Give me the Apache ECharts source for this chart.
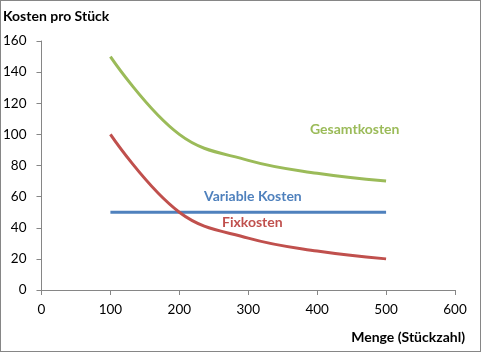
<!DOCTYPE html>
<html><head><meta charset="utf-8">
<script src="https://cdn.jsdelivr.net/npm/echarts@6/dist/echarts.min.js"></script>
<style>
html,body{margin:0;padding:0;background:#fff;}
#frame{position:absolute;left:0;top:0;width:479px;height:350px;border:1px solid #868686;}
#c{position:absolute;left:0;top:0;width:482px;height:355px;}
</style></head>
<body><div id="frame"></div><div id="c"></div>
<script>
const menge = [100, 200, 300, 400, 500];
const fixkosten = [100, 50, 33.3, 25, 20];
const variableKosten = [50, 50, 50, 50, 50];
const gesamtkosten = [150, 100, 83.3, 75, 70];
const xTicks = [0, 100, 200, 300, 400, 500, 600];
const yTicks = [0, 20, 40, 60, 80, 100, 120, 140, 160];

const FONT = 'Lato';
const pairs = (ys) => menge.map((x, i) => [x, ys[i]]);
const chart = echarts.init(document.getElementById('c'), null, {renderer: 'canvas'});
const axisLine = {show: true, lineStyle: {color: '#868686', width: 1}};
chart.setOption({
  animation: false,
  backgroundColor: 'transparent',
  grid: {left: 41, right: 27, top: 41, bottom: 65, containLabel: false},
  xAxis: {
    type: 'value', min: xTicks[0], max: xTicks[xTicks.length - 1], interval: 100,
    axisLine: axisLine, axisTick: {show: true, length: 5, lineStyle: {color: '#868686'}},
    splitLine: {show: false},
    axisLabel: {color: '#000', fontFamily: FONT, fontSize: 13.5, margin: 13}
  },
  yAxis: {
    type: 'value', min: yTicks[0], max: yTicks[yTicks.length - 1], interval: 20,
    axisLine: axisLine, axisTick: {show: true, length: 5, lineStyle: {color: '#868686'}},
    splitLine: {show: false},
    axisLabel: {color: '#000', fontFamily: FONT, fontSize: 13.5, margin: 15}
  },
  graphic: [
    {type: 'text', left: 3, top: 9, style: {text: 'Kosten pro Stück', font: 'bold 14px Lato', fill: '#000'}},
    {type: 'text', right: 17, top: 330, style: {text: 'Menge (Stückzahl)', font: 'bold 14px Lato', fill: '#000'}},
    {type: 'text', left: 310, top: 122, style: {text: 'Gesamtkosten', font: 'bold 14px Lato', fill: '#9BBB59'}},
    {type: 'text', left: 204, top: 189, style: {text: 'Variable Kosten', font: 'bold 14px Lato', fill: '#4F81BD'}},
    {type: 'text', left: 222, top: 215, style: {text: 'Fixkosten', font: 'bold 14px Lato', fill: '#C0504D'}}
  ],
  series: [
    {name: 'Gesamtkosten', type: 'line', data: pairs(gesamtkosten), smooth: 0.4, symbol: 'none',
     lineStyle: {color: '#9BBB59', width: 3}},
    {name: 'Variable Kosten', type: 'line', data: pairs(variableKosten), smooth: 0.4, symbol: 'none',
     lineStyle: {color: '#4F81BD', width: 3}},
    {name: 'Fixkosten', type: 'line', data: pairs(fixkosten), smooth: 0.4, symbol: 'none',
     lineStyle: {color: '#C0504D', width: 3}}
  ]
});
</script></body></html>
